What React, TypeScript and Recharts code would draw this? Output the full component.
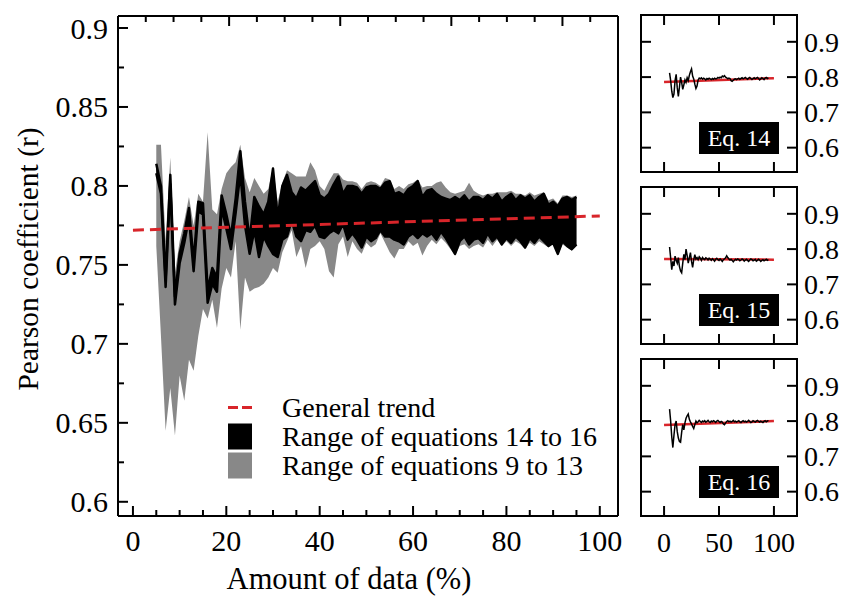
import { ComposedChart, Line, Area, XAxis, YAxis, Legend, Label, ReferenceArea } from "recharts";

const FONT = "'Liberation Serif', 'Times New Roman', serif";
const RED = "#d8252a";
const GRAY = "#888888";

// amount of data (%) for every sampled point
const amount = Array.from({ length: 91 }, (_, i) => i + 5);

// range of equations 9 to 13
const grayLow = [
  0.762, 0.705, 0.645, 0.672, 0.642, 0.68, 0.664, 0.69, 0.683, 0.705,
  0.722, 0.716, 0.728, 0.71, 0.735, 0.748, 0.742, 0.765, 0.709, 0.742,
  0.733, 0.735, 0.736, 0.738, 0.742, 0.748, 0.745, 0.758, 0.765, 0.772,
  0.755, 0.762, 0.748, 0.76, 0.762, 0.765, 0.76, 0.746, 0.742, 0.763,
  0.768, 0.755, 0.765, 0.76, 0.757, 0.764, 0.761, 0.763, 0.77, 0.764,
  0.758, 0.754, 0.76, 0.76, 0.765, 0.762, 0.764, 0.756, 0.762, 0.766,
  0.763, 0.767, 0.764, 0.76, 0.756, 0.762, 0.763, 0.76, 0.762, 0.763,
  0.761, 0.766, 0.762, 0.766, 0.762, 0.765, 0.762, 0.765, 0.763, 0.76,
  0.764, 0.762, 0.765, 0.763, 0.761, 0.763, 0.756, 0.763, 0.761, 0.759,
  0.762,
];
const grayHigh = [
  0.826, 0.826, 0.765, 0.818, 0.745, 0.765, 0.778, 0.793, 0.775, 0.795,
  0.79, 0.834, 0.785, 0.782, 0.798, 0.808, 0.812, 0.815, 0.826, 0.805,
  0.796, 0.805, 0.8, 0.795, 0.798, 0.812, 0.79, 0.802, 0.81, 0.808,
  0.806, 0.806, 0.806, 0.815, 0.81, 0.8, 0.797, 0.803, 0.808, 0.808,
  0.804, 0.803, 0.803, 0.802, 0.798, 0.802, 0.803, 0.802, 0.8, 0.805,
  0.804, 0.798, 0.8, 0.798, 0.801, 0.802, 0.804, 0.799, 0.8, 0.8,
  0.802, 0.803, 0.799, 0.796, 0.795, 0.796, 0.797, 0.802, 0.797, 0.795,
  0.794, 0.795, 0.795, 0.796, 0.796, 0.796, 0.797, 0.795, 0.795, 0.794,
  0.796, 0.794, 0.795, 0.796, 0.791, 0.792, 0.789, 0.794, 0.794, 0.793,
  0.794,
];

// range of equations 14 to 16
const blackLow = [
  0.808, 0.795, 0.736, 0.801, 0.725, 0.751, 0.764, 0.78, 0.746, 0.784,
  0.782, 0.726, 0.738, 0.733, 0.786, 0.773, 0.76, 0.783, 0.808, 0.775,
  0.757, 0.772, 0.755, 0.768, 0.762, 0.757, 0.755, 0.766, 0.768, 0.778,
  0.768, 0.765, 0.772, 0.771, 0.775, 0.768, 0.767, 0.77, 0.772, 0.77,
  0.776, 0.766, 0.77, 0.766, 0.761, 0.768, 0.765, 0.767, 0.772, 0.768,
  0.768, 0.766, 0.765, 0.763, 0.768, 0.77, 0.767, 0.77, 0.768, 0.77,
  0.766, 0.771, 0.767, 0.762, 0.757, 0.765, 0.768, 0.763, 0.766, 0.767,
  0.764, 0.77, 0.765, 0.768, 0.763, 0.767, 0.764, 0.768, 0.765, 0.761,
  0.767, 0.764, 0.768, 0.765, 0.762, 0.764, 0.757, 0.765, 0.762, 0.76,
  0.763,
];
const blackHigh = [
  0.814, 0.8, 0.741, 0.807, 0.73, 0.757, 0.77, 0.786, 0.752, 0.79,
  0.789, 0.734, 0.748, 0.742, 0.794, 0.782, 0.768, 0.792, 0.822, 0.79,
  0.766, 0.793, 0.787, 0.782, 0.79, 0.811, 0.78, 0.8, 0.807, 0.796,
  0.792, 0.799, 0.797, 0.8, 0.803, 0.794, 0.792, 0.795, 0.801, 0.806,
  0.795, 0.8, 0.8, 0.799, 0.795, 0.799, 0.8, 0.8, 0.798, 0.802,
  0.803, 0.795, 0.796, 0.794, 0.798, 0.8, 0.803, 0.793, 0.797, 0.798,
  0.795, 0.793, 0.792, 0.791, 0.793, 0.791, 0.794, 0.79, 0.793, 0.793,
  0.791, 0.794, 0.792, 0.795, 0.79, 0.793, 0.795, 0.791, 0.794, 0.792,
  0.794, 0.79, 0.793, 0.795, 0.788, 0.79, 0.787, 0.792, 0.793, 0.791,
  0.793,
];

// general trend (end points)
const trendX = [0, 100];
const trendMain = [0.772, 0.781];

// single equations (small panels)
const eq14 = [
  0.812, 0.79, 0.76, 0.742, 0.752, 0.79, 0.808, 0.77, 0.745, 0.772,
  0.8, 0.785, 0.765, 0.778, 0.792, 0.785, 0.798, 0.79, 0.805, 0.815,
  0.823, 0.803, 0.795, 0.78, 0.768, 0.775, 0.792, 0.797, 0.795, 0.798,
  0.794, 0.797, 0.795, 0.792, 0.796, 0.794, 0.797, 0.795, 0.793, 0.796,
  0.794, 0.797, 0.795, 0.796, 0.799, 0.797, 0.8, 0.798, 0.803, 0.801,
  0.804, 0.8, 0.798, 0.795, 0.797, 0.796, 0.79, 0.788, 0.791, 0.794,
  0.795, 0.793, 0.795, 0.797, 0.794, 0.796, 0.798, 0.795, 0.797, 0.799,
  0.796, 0.794, 0.797, 0.799, 0.796, 0.793, 0.796, 0.798, 0.795, 0.797,
  0.799, 0.796, 0.792, 0.795, 0.798, 0.796, 0.793, 0.797, 0.799, 0.796,
  0.798,
];
const eq15 = [
  0.806, 0.775, 0.742, 0.765, 0.752, 0.78, 0.768, 0.76, 0.776, 0.75,
  0.738, 0.733, 0.76, 0.785, 0.77, 0.8, 0.782, 0.76, 0.775, 0.79,
  0.765, 0.748, 0.77, 0.784, 0.772, 0.776, 0.77, 0.778, 0.774, 0.768,
  0.776, 0.772, 0.77, 0.775, 0.773, 0.769, 0.774, 0.771, 0.768, 0.773,
  0.77, 0.766, 0.771, 0.774, 0.77, 0.768, 0.772, 0.769, 0.765, 0.77,
  0.772, 0.775, 0.781, 0.776, 0.772, 0.769, 0.771, 0.768, 0.764, 0.768,
  0.771, 0.769, 0.772, 0.77, 0.767, 0.769, 0.772, 0.77, 0.766, 0.769,
  0.771, 0.768, 0.765, 0.769, 0.772, 0.77, 0.767, 0.769, 0.771, 0.766,
  0.768, 0.771, 0.769, 0.765, 0.768, 0.77, 0.767, 0.769, 0.771, 0.768,
  0.77,
];
const eq16 = [
  0.834, 0.8, 0.755, 0.725, 0.76, 0.79, 0.8, 0.77, 0.752, 0.742,
  0.74, 0.768, 0.79, 0.775, 0.795, 0.808, 0.815, 0.82, 0.805, 0.798,
  0.792, 0.785, 0.779, 0.79, 0.8, 0.795, 0.798, 0.802, 0.799, 0.796,
  0.8, 0.798, 0.801, 0.797, 0.799, 0.802, 0.798, 0.796, 0.8, 0.798,
  0.801, 0.799, 0.796, 0.8, 0.802, 0.799, 0.796, 0.799, 0.797, 0.792,
  0.79, 0.795, 0.799, 0.801, 0.798, 0.8, 0.797, 0.799, 0.802, 0.798,
  0.8, 0.797, 0.799, 0.801, 0.798, 0.796, 0.799, 0.801, 0.798, 0.8,
  0.797, 0.799, 0.802, 0.799, 0.796, 0.798, 0.801, 0.799, 0.797, 0.8,
  0.802, 0.799, 0.797, 0.8, 0.798, 0.796, 0.799, 0.801, 0.798, 0.8,
  0.802,
];
const trend14 = [0.786, 0.797];
const trend15 = [0.772, 0.77];
const trend16 = [0.789, 0.8];

// ticks and domains
const mainXTicks = [0, 5, 10, 15, 20, 25, 30, 35, 40, 45, 50, 55, 60, 65, 70, 75, 80, 85, 90, 95, 100];
const mainYTicks = [0.6, 0.625, 0.65, 0.675, 0.7, 0.725, 0.75, 0.775, 0.8, 0.825, 0.85, 0.875, 0.9];
const panelXTicks = [0, 50, 100];
const panelYTicks = [0.6, 0.7, 0.8, 0.9];
const panelXDomain = [-21, 121];
const panelYDomain = [0.531, 0.976];

const mainRows = amount.map((x, i) => ({
  x,
  gray: [grayLow[i], grayHigh[i]],
  black: [blackLow[i], blackHigh[i]],
}));
const mainTrend = trendX.map((x, i) => ({ x, r: trendMain[i] }));

type Side = "left" | "right" | "top" | "bottom";

const tickMaker =
  (
    side: Side,
    isMajor: (v: number) => boolean,
    showText: boolean,
    fontSize = 30,
    gap = 10,
    long = 10,
    short = 6
  ) =>
  (p: any) => {
    const { x, y } = p;
    const v = p.payload.value;
    const major = isMajor(v);
    const len = major ? long : short;
    const dx = side === "left" ? len : side === "right" ? -len : 0;
    const dy = side === "top" ? len : side === "bottom" ? -len : 0;
    let tx = x;
    let ty = y;
    let anchor: "start" | "middle" | "end" = "middle";
    if (side === "left") {
      tx = x - gap;
      anchor = "end";
    }
    if (side === "right") {
      tx = x + gap;
      anchor = "start";
    }
    if (side === "bottom") ty = y + gap;
    if (side === "top") ty = y - gap;
    return (
      <g>
        <line x1={x} y1={y} x2={x + dx} y2={y + dy} stroke="#000" strokeWidth={2} />
        {showText && major ? (
          <text x={tx} y={ty} dy="0.35em" textAnchor={anchor} fontSize={fontSize} fontFamily={FONT} fill="#000">
            {String(v)}
          </text>
        ) : null}
      </g>
    );
  };

const frame = { stroke: "#000", strokeWidth: 2 };
const xMajor = (v: number) => v % 20 === 0;
const yMajor = (v: number) => Math.round(v * 1000) % 50 === 0;

const MainLegend = () => {
  const row = { display: "flex", alignItems: "center", height: 29 } as const;
  const text = { marginLeft: 30, whiteSpace: "nowrap" } as const;
  return (
    <div style={{ fontFamily: FONT, fontSize: 28, color: "#000", lineHeight: "29px" }}>
      <div style={row}>
        <svg width={26} height={29}>
          <line x1={2} x2={26} y1={14.5} y2={14.5} stroke={RED} strokeWidth={3} strokeDasharray="10 4" />
        </svg>
        <span style={text}>General trend</span>
      </div>
      <div style={row}>
        <svg width={26} height={29}>
          <rect x={2} y={1.5} width={24} height={26} fill="#000" />
        </svg>
        <span style={text}>Range of equations 14 to 16</span>
      </div>
      <div style={row}>
        <svg width={26} height={29}>
          <rect x={2} y={1.5} width={24} height={26} fill={GRAY} />
        </svg>
        <span style={text}>Range of equations 9 to 13</span>
      </div>
    </div>
  );
};

const MainChart = () => (
  <ComposedChart width={640} height={601} data={mainRows} margin={{ top: 15, right: 21, bottom: 45, left: 58 }}>
    <XAxis
      xAxisId="b"
      dataKey="x"
      type="number"
      domain={[-3.2, 103.9]}
      ticks={mainXTicks}
      interval={0}
      tickSize={0}
      tickMargin={0}
      tickLine={false}
      axisLine={frame}
      height={40}
      tick={tickMaker("bottom", xMajor, true, 30, 24)}
    >
      <Label
        content={() => (
          <text x={349} y={578} dy="0.35em" textAnchor="middle" fontSize={30.5} fontFamily={FONT} fill="#000">
            Amount of data (%)
          </text>
        )}
      />
    </XAxis>
    <XAxis
      xAxisId="t"
      orientation="top"
      type="number"
      domain={[-3.2, 103.9]}
      ticks={mainXTicks}
      interval={0}
      tickSize={0}
      tickMargin={0}
      tickLine={false}
      axisLine={frame}
      height={1}
      tick={tickMaker("top", xMajor, false)}
    />
    <YAxis
      yAxisId="l"
      type="number"
      domain={[0.591, 0.9076]}
      ticks={mainYTicks}
      interval={0}
      tickSize={0}
      tickMargin={0}
      tickLine={false}
      axisLine={frame}
      width={60}
      tick={tickMaker("left", yMajor, true, 30, 10)}
    >
      <Label
        content={() => (
          <text
            x={28}
            y={259}
            transform="rotate(-90, 28, 259)"
            dy="0.35em"
            textAnchor="middle"
            fontSize={29.5}
            fontFamily={FONT}
            fill="#000"
          >
            Pearson coefficient (r)
          </text>
        )}
      />
    </YAxis>
    <YAxis
      yAxisId="r"
      orientation="right"
      type="number"
      domain={[0.591, 0.9076]}
      ticks={mainYTicks}
      interval={0}
      tickSize={0}
      tickMargin={0}
      tickLine={false}
      axisLine={frame}
      width={1}
      tick={tickMaker("right", yMajor, false)}
    />
    <Area
      xAxisId="b"
      yAxisId="l"
      type="linear"
      dataKey="gray"
      fill={GRAY}
      fillOpacity={1}
      stroke="none"
      isAnimationActive={false}
    />
    <Area
      xAxisId="b"
      yAxisId="l"
      type="linear"
      dataKey="black"
      fill="#000"
      fillOpacity={1}
      stroke="#000"
      strokeWidth={2.5}
      strokeLinejoin="round"
      isAnimationActive={false}
    />
    <Line
      xAxisId="b"
      yAxisId="l"
      data={mainTrend}
      dataKey="r"
      type="linear"
      stroke={RED}
      strokeWidth={3}
      strokeDasharray="11 6"
      dot={false}
      isAnimationActive={false}
    />
    <Legend
      layout="vertical"
      align="center"
      verticalAlign="middle"
      wrapperStyle={{ left: 226, top: 393, width: 400 }}
      content={() => <MainLegend />}
    />
  </ComposedChart>
);

// plot box of a small panel, in px
const PW = 156;
const PH = 157;

// one axis per direction; each tick also draws its twin on the opposite side of the box
const panelYTick = (p: any) => {
  const { x, y } = p;
  return (
    <g>
      <line x1={x} y1={y} x2={x + 10} y2={y} stroke="#000" strokeWidth={2} />
      <line x1={x + PW} y1={y} x2={x + PW - 10} y2={y} stroke="#000" strokeWidth={2} />
      <text x={x + PW + 7} y={y} dy="0.35em" textAnchor="start" fontSize={28} fontFamily={FONT} fill="#000">
        {String(p.payload.value)}
      </text>
    </g>
  );
};

const panelXTick = (showX: boolean) => (p: any) => {
  const { x, y } = p;
  return (
    <g>
      <line x1={x} y1={y} x2={x} y2={y - 10} stroke="#000" strokeWidth={2} />
      <line x1={x} y1={y - PH} x2={x} y2={y - PH + 10} stroke="#000" strokeWidth={2} />
      {showX ? (
        <text x={x} y={y + 26} dy="0.35em" textAnchor="middle" fontSize={28} fontFamily={FONT} fill="#000">
          {String(p.payload.value)}
        </text>
      ) : null}
    </g>
  );
};

const Panel = ({
  top,
  values,
  trend,
  name,
  showX,
}: {
  top: number;
  values: number[];
  trend: number[];
  name: string;
  showX: boolean;
}) => {
  const rows = amount.map((x, i) => ({ x, r: values[i] }));
  const trendRows = trendX.map((x, i) => ({ x, r: trend[i] }));
  const bottomH = showX ? 40 : 1;
  const bottomM = showX ? 5 : 9;
  return (
    <div style={{ position: "absolute", left: 630, top: top - 10 }}>
      <ComposedChart
        width={215}
        height={10 + PH + bottomH + bottomM}
        data={rows}
        margin={{ top: 10, right: 48, bottom: bottomM, left: 10 }}
      >
        <XAxis
          dataKey="x"
          type="number"
          domain={panelXDomain}
          ticks={panelXTicks}
          interval={0}
          tickSize={0}
          tickMargin={0}
          tickLine={false}
          axisLine={frame}
          height={bottomH}
          tick={panelXTick(showX)}
        />
        <YAxis
          type="number"
          domain={panelYDomain}
          ticks={panelYTicks}
          interval={0}
          tickSize={0}
          tickMargin={0}
          tickLine={false}
          axisLine={frame}
          width={1}
          tick={panelYTick}
        />
        <ReferenceArea
          x1={panelXDomain[0]}
          x2={panelXDomain[1]}
          y1={panelYDomain[0]}
          y2={panelYDomain[1]}
          fill="none"
          fillOpacity={0}
          stroke="#000"
          strokeWidth={2}
        />
        <Line
          data={trendRows}
          dataKey="r"
          type="linear"
          stroke={RED}
          strokeWidth={2.5}
          dot={false}
          isAnimationActive={false}
        />
        <Line dataKey="r" type="linear" stroke="#000" strokeWidth={1.5} dot={false} isAnimationActive={false} />
        <Legend
          layout="vertical"
          align="center"
          verticalAlign="middle"
          wrapperStyle={{ left: 69, top: 117, width: 80 }}
          content={() => (
            <div
              style={{
                width: 80,
                height: 32,
                background: "#000",
                color: "#fff",
                fontFamily: FONT,
                fontSize: 24,
                lineHeight: "32px",
                textAlign: "center",
              }}
            >
              {name}
            </div>
          )}
        />
      </ComposedChart>
    </div>
  );
};

export default function App() {
  return (
    <div style={{ position: "absolute", left: 0, top: 0, width: 845, height: 601, background: "#fff" }}>
      <MainChart />
      <Panel top={15} values={eq14} trend={trend14} name="Eq. 14" showX={false} />
      <Panel top={187} values={eq15} trend={trend15} name="Eq. 15" showX={false} />
      <Panel top={359} values={eq16} trend={trend16} name="Eq. 16" showX={true} />
    </div>
  );
}
